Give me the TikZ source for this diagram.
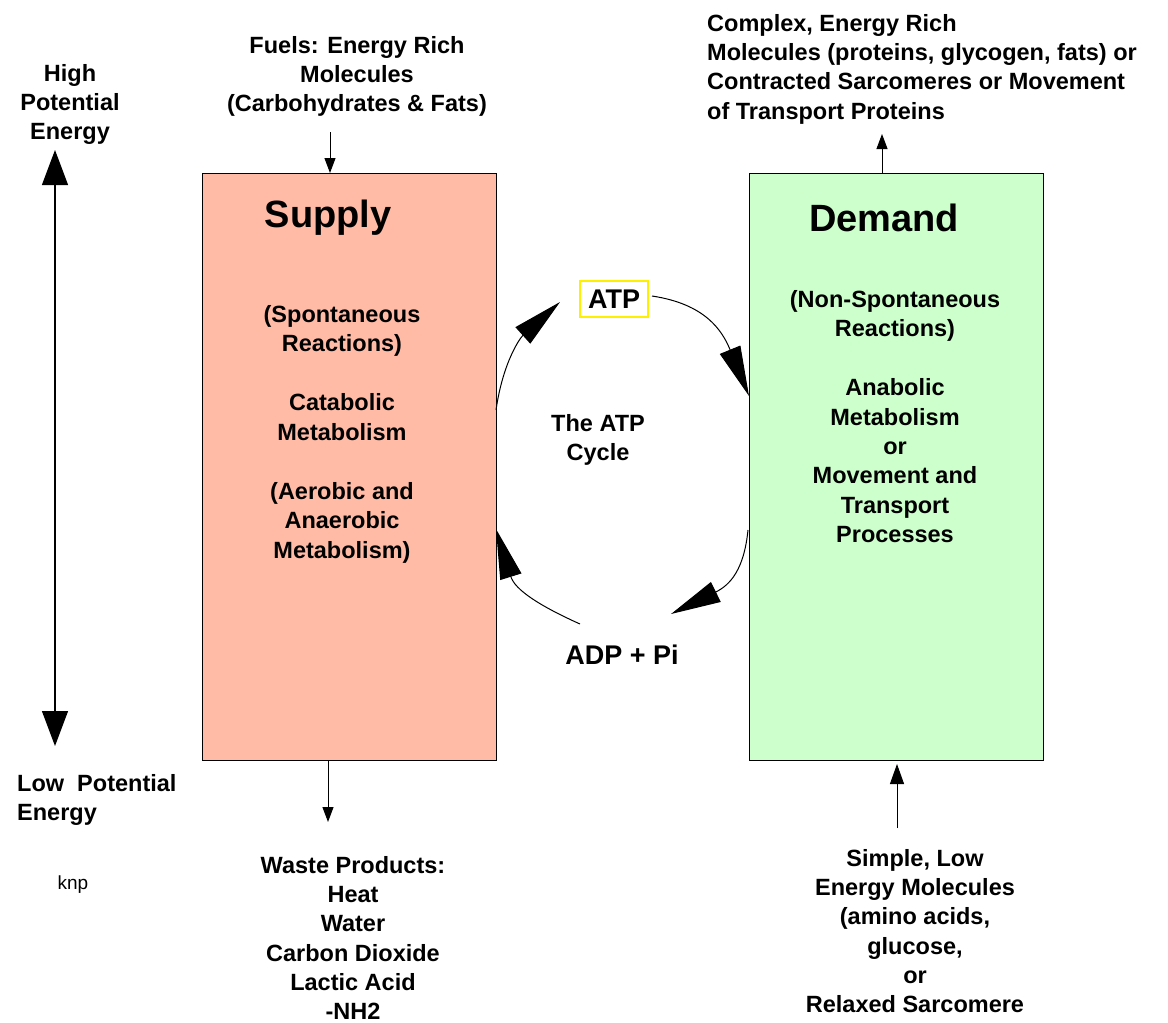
\documentclass[tikz,border=0pt]{standalone}
\usepackage{fontspec}
\setmainfont{Liberation Sans}
\usetikzlibrary{arrows.meta}
\definecolor{supplyfill}{RGB}{255,187,165}
\definecolor{demandfill}{RGB}{204,255,204}
\definecolor{atpyellow}{RGB}{255,240,0}
\begin{document}
\begin{tikzpicture}[x=1pt,y=-1pt,
  txt/.style={font=\fontsize{23.5}{29.3}\selectfont\bfseries, align=center, inner sep=0pt},
  txtl/.style={font=\fontsize{23.5}{29.3}\selectfont\bfseries, align=left, inner sep=0pt, anchor=north west},
  title/.style={font=\fontsize{38}{40}\selectfont\bfseries, inner sep=0pt},
  bigbox/.style={draw=black, line width=1.2pt, minimum width=294pt, minimum height=587pt, inner sep=0pt, anchor=north west},
  bigtip/.style={-{Triangle[length=50pt,width=22pt]}, line width=1pt},
  smalltip/.style={-{Triangle[length=15pt,width=11pt]}, line width=1pt},
  scaletip/.style={{Triangle[length=35pt,width=26pt]}-{Triangle[length=35pt,width=26pt]}, line width=1.2pt}
]
\useasboundingbox (0,0) rectangle (1168,1023);
\fill[white] (0,0) rectangle (1168,1023);

% boxes
\node[bigbox, fill=supplyfill] (supply) at (202,173) {};
\node[bigbox, fill=demandfill] (demand) at (749,173) {};

\node[title] (supt) at (328,218) {Supply};
\node[title] (demt) at (884,218) {Demand};

\node[txt, anchor=north] (suptext) at (342,305) {(Spontaneous\\Reactions)\\[30pt]Catabolic\\Metabolism\\[30pt](Aerobic and\\Anaerobic\\Metabolism)};
\node[txt, anchor=north] (demtext) at (895,290) {(Non-Spontaneous\\Reactions)\\[30pt]Anabolic\\Metabolism\\or\\Movement and\\Transport\\Processes};

% top texts
\node[txt, anchor=north] (fuels) at (357,36) {Fuels: Energy Rich\\Molecules\\(Carbohydrates \& Fats)};
\node[txtl] (complex) at (707,14) {Complex, Energy Rich\\Molecules (proteins, glycogen, fats) or\\Contracted Sarcomeres or Movement\\of Transport Proteins};

\coordinate (fuelsend) at (330,132);
\coordinate (supplytop) at (330,173);
\draw[smalltip] (fuelsend) -- (supplytop);
\coordinate (demandtop) at (882,173);
\coordinate (complexend) at (882,134);
\draw[smalltip] (demandtop) -- (complexend);

% left scale
\node[txt, anchor=north] (high) at (70,64) {High\\Potential\\Energy};
\node[txtl] (low) at (17,774) {Low\ \ Potential\\Energy};
\node[font=\fontsize{19}{22}\selectfont, inner sep=0pt] (knp) at (73,885) {knp};
\coordinate (scaletop) at (55,150);
\coordinate (scalebot) at (55,746);
\draw[scaletip] (scalebot) -- (scaletop);

% bottom texts
\coordinate (supplybot) at (328,760);
\coordinate (wasteend) at (328,822);
\draw[smalltip] (supplybot) -- (wasteend);
\node[txt, anchor=north] (waste) at (353,856) {Waste Products:\\Heat\\Water\\Carbon Dioxide\\Lactic Acid\\-NH2};

\coordinate (simpleend) at (897,828);
\coordinate (demandbot) at (897,764);
\draw[-{Triangle[length=20pt,width=14pt]}, line width=1pt] (simpleend) -- (demandbot);
\node[txt, anchor=north] (simple) at (915,849) {Simple, Low\\Energy Molecules\\(amino acids,\\glucose,\\or\\Relaxed Sarcomere};

% ATP cycle
\node[draw=atpyellow, line width=1.2pt, font=\fontsize{27}{30}\selectfont\bfseries, minimum width=68pt, minimum height=36pt, inner sep=0pt] (atp) at (614,299) {ATP};
\node[txt, anchor=north] (cycle) at (598,414) {The ATP\\Cycle};
\node[font=\fontsize{27}{30}\selectfont\bfseries, inner sep=0pt] (adp) at (622,655) {ADP + Pi};

\coordinate (c1s) at (496,410);
\coordinate (c1e) at (560,302);
\draw[bigtip] (c1s) .. controls (503,362) and (520,338) .. (c1e);
\coordinate (c2s) at (652,296);
\coordinate (c2e) at (749,396);
\draw[bigtip] (c2s) .. controls (705,304) and (722,330) .. (c2e);
\coordinate (c3s) at (748,530);
\coordinate (c3e) at (671,614);
\draw[bigtip] (c3s) .. controls (744,570) and (730,585) .. (c3e);
\coordinate (c4s) at (580,624);
\coordinate (c4e) at (496,529);
\draw[bigtip] (c4s) .. controls (540,606) and (515,590) .. (c4e);
\end{tikzpicture}
\end{document}
